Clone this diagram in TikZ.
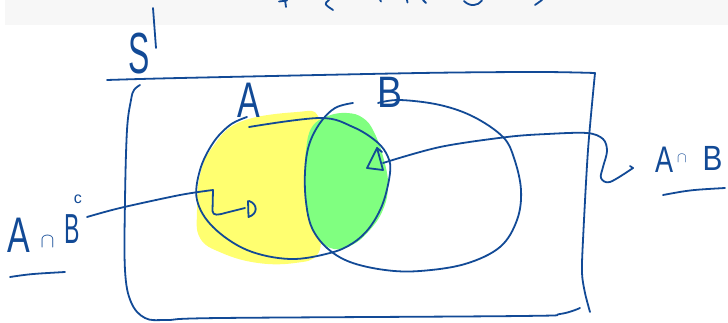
\documentclass[tikz,border=0pt]{standalone}
\usepackage{fontspec}
\setmainfont{Liberation Sans}
\definecolor{ink}{RGB}{18,74,150}
\definecolor{hlyellow}{RGB}{255,255,112}
\definecolor{hlgreen}{RGB}{128,255,128}
\definecolor{bandgray}{RGB}{247,247,247}
\begin{document}
\begin{tikzpicture}[x=1pt,y=-1pt,
  pen/.style={draw=ink,line width=1.8pt,line cap=round,line join=round},
  lbl/.style={text=ink,inner sep=0pt,outer sep=0pt}]
\useasboundingbox (0,0) rectangle (728,322);
% top band with cut-off writing
\fill[bandgray] (5,0) rectangle (728,25);
\draw[pen] (285,0) -- (286,7);
\draw[pen] (279,1.5) -- (287,0.5);
\draw[pen] (329,0) .. controls (324,4) .. (333,10);
\draw[pen] (380,0) -- (381,1.5);
\draw[pen] (407,0) -- (407.5,2.5);
\draw[pen] (423,0) -- (426,3);
\draw[pen] (464,1) .. controls (470,7) and (478,6) .. (482,0.5);
\draw[pen] (542,0) -- (535,5);

% highlights
\fill[hlyellow] plot[smooth cycle,tension=0.7] coordinates {(240,122) (297,112) (318,116) (321,150) (319,190) (321,230) (317,255) (295,263) (258,263) (222,253) (200,238) (197,210) (200,175) (212,148)};
\fill[hlgreen] plot[smooth cycle,tension=0.7] coordinates {(312,127) (328,116) (347,113) (363,118) (374,132) (384,160) (388,187) (382,212) (368,232) (352,245) (334,249) (318,238) (307,212) (305,180) (306,150)};

% sample space box
\draw[pen] plot[smooth,tension=0.5] coordinates {(107,80) (180,78) (420,73) (540,72) (595,73)};
\draw[pen] plot[smooth,tension=0.5] coordinates {(595,73) (588,150) (583,240) (582,273) (585,293) (590,312)};
\draw[pen] plot[smooth,tension=0.6] coordinates {(580,308) (560,314) (520,316) (220,318) (167,320) (145,318) (131,302) (125,270) (125,200) (127,130) (131,100) (134,90) (140,85)};

% S
\draw[pen] (153,8) -- (156,48);
\node[lbl,anchor=base] (S) at (139,73) {\fontsize{58}{58}\selectfont\scalebox{0.55}[1]{S}};

% set A
\draw[pen] plot[smooth,tension=0.6] coordinates {(249,127) (320,118) (353,127) (377,142) (388,157) (390,173) (383,203) (370,227) (353,243) (330,253) (290,259) (247,250) (213,227) (197,200) (200,170) (213,143) (230,125) (247,117)};
\node[lbl,anchor=base] (labA) at (248.5,117) {\fontsize{50}{50}\selectfont\scalebox{0.68}[1]{A}};

% set B
\draw[pen] plot[smooth,tension=0.6] coordinates {(353,103) (335,108) (320,123) (309,145) (305,172) (306,202) (312,228) (327,248) (350,262) (385,270) (420,271) (465,264) (500,247) (517,220) (521,190) (514,158) (503,137) (474,117) (440,105) (400,100) (378,103)};
\node[lbl,anchor=base] (labB) at (390,107) {\fontsize{44}{44}\selectfont\scalebox{0.85}[1]{B}};

% label A cap B complement
\node[lbl,anchor=base west] (lAnB) at (8,252) {\fontsize{50}{50}\selectfont\scalebox{0.68}[1]{A}\hspace{10pt}\raisebox{5pt}{\fontsize{20}{20}\selectfont$\cap$}\hspace{10pt}\raisebox{9pt}{\fontsize{42}{42}\selectfont\scalebox{0.55}[1]{B}}\hspace{-6pt}\raisebox{49pt}{\fontsize{16}{16}\selectfont c}};
\draw[pen] (10,277) .. controls (30,274) .. (65,272);
\coordinate (p1) at (87,217);
\coordinate (p2) at (213,190);
\coordinate (p3) at (245,208);
\draw[pen] plot[smooth,tension=0.5] coordinates {(p1) (120,208) (180,195) (p2)};
\draw[pen] (p2) -- (212.5,211) .. controls (213,216) and (218,215) .. (225,213) -- (p3);
\draw[pen] (248,201) -- (248.5,217) .. controls (258,214) and (258,204) .. (249,201);

% label A cap B
\node[lbl,anchor=base west] (lAB) at (655,172) {\fontsize{37}{37}\selectfont\scalebox{0.73}[1]{A}\hspace{4pt}\raisebox{10pt}{\fontsize{14}{14}\selectfont$\cap$}\hspace{16pt}\raisebox{2pt}{\fontsize{35}{35}\selectfont\scalebox{0.85}[1]{B}}};
\draw[pen] (663,195) .. controls (690,190) .. (725,188);
\coordinate (q1) at (383,163);
\coordinate (q2) at (633,168);
\draw[pen] (367,168) -- (377,148) -- (383,170) -- cycle;
\draw[pen] (377,148) -- (382,152);
\draw[pen] plot[smooth,tension=0.55] coordinates {(q1) (440,147) (507,137) (547,134) (587,133) (603,139) (607,151) (603,167) (601,178) (610,182) (q2)};
\draw[pen] (q2) -- (630,166);
\end{tikzpicture}
\end{document}
